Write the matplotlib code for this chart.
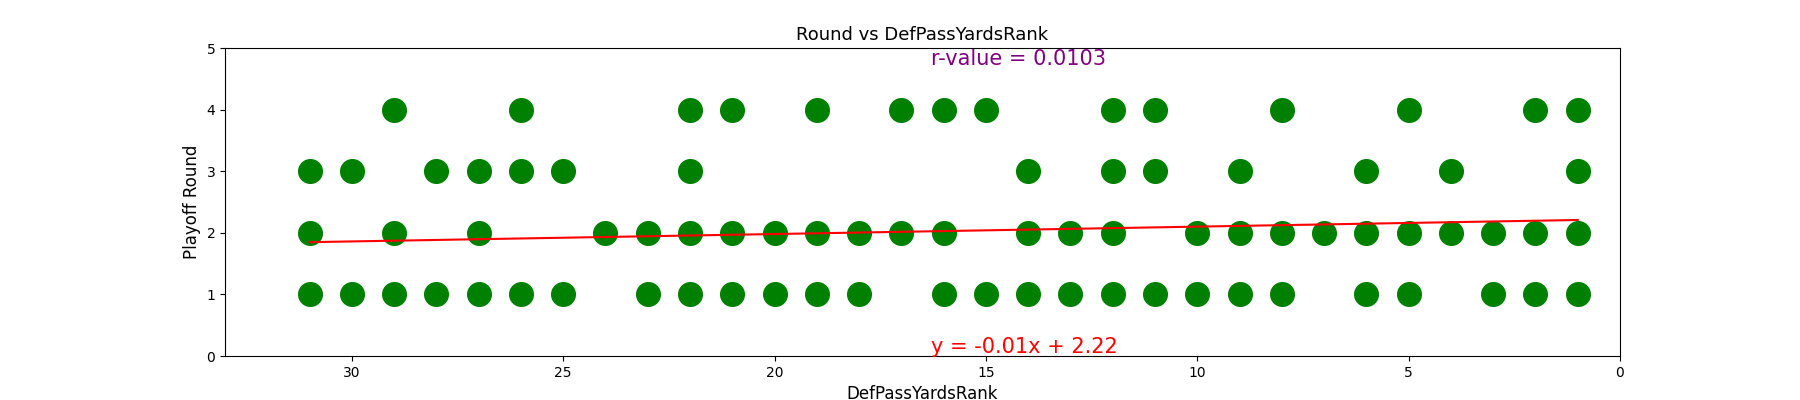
import numpy as np
import matplotlib.pyplot as plt

# points, grouped by playoff round
rank_r4 = [29, 26, 22, 21, 19, 17, 16, 15, 12, 11, 8, 5, 2, 1]
rank_r3 = [31, 30, 28, 27, 26, 25, 22, 14, 12, 11, 9, 6, 4, 1]
rank_r2 = [31, 29, 27, 24, 23, 22, 21, 20, 19, 18, 17, 16, 14, 13, 12, 10, 9, 8, 7, 6, 5, 4, 3, 2, 1]
rank_r1 = [31, 30, 29, 28, 27, 26, 25, 23, 22, 21, 20, 19, 18, 16, 15, 14, 13, 12, 11, 10, 9, 8, 6, 5, 3, 2, 1]

x = np.array(rank_r4 + rank_r3 + rank_r2 + rank_r1, dtype=float)
y = np.array([4] * len(rank_r4) + [3] * len(rank_r3) + [2] * len(rank_r2) + [1] * len(rank_r1), dtype=float)

fig = plt.figure(figsize=(18, 4), dpi=100)
ax = fig.add_axes([0.125, 0.11, 0.775, 0.77])

ax.scatter(x, y, s=290, c='green')

# regression line as shown on chart
slope, intercept = -0.012, 2.22
xs = np.array([31, 1])
ax.plot(xs, slope * xs + intercept, c='red')

ax.text(16.3, 4.72, 'r-value = 0.0103', fontsize=15, color='purple')
ax.text(16.3, 0.05, 'y = -0.01x + 2.22', fontsize=15, color='red')

ax.set_xlim(33, 0)
ax.set_ylim(0, 5)
ax.set_title('Round vs DefPassYardsRank', fontsize=13)
ax.set_xlabel('DefPassYardsRank', fontsize=12)
ax.set_ylabel('Playoff Round', fontsize=12)

fig.savefig('out.png')
